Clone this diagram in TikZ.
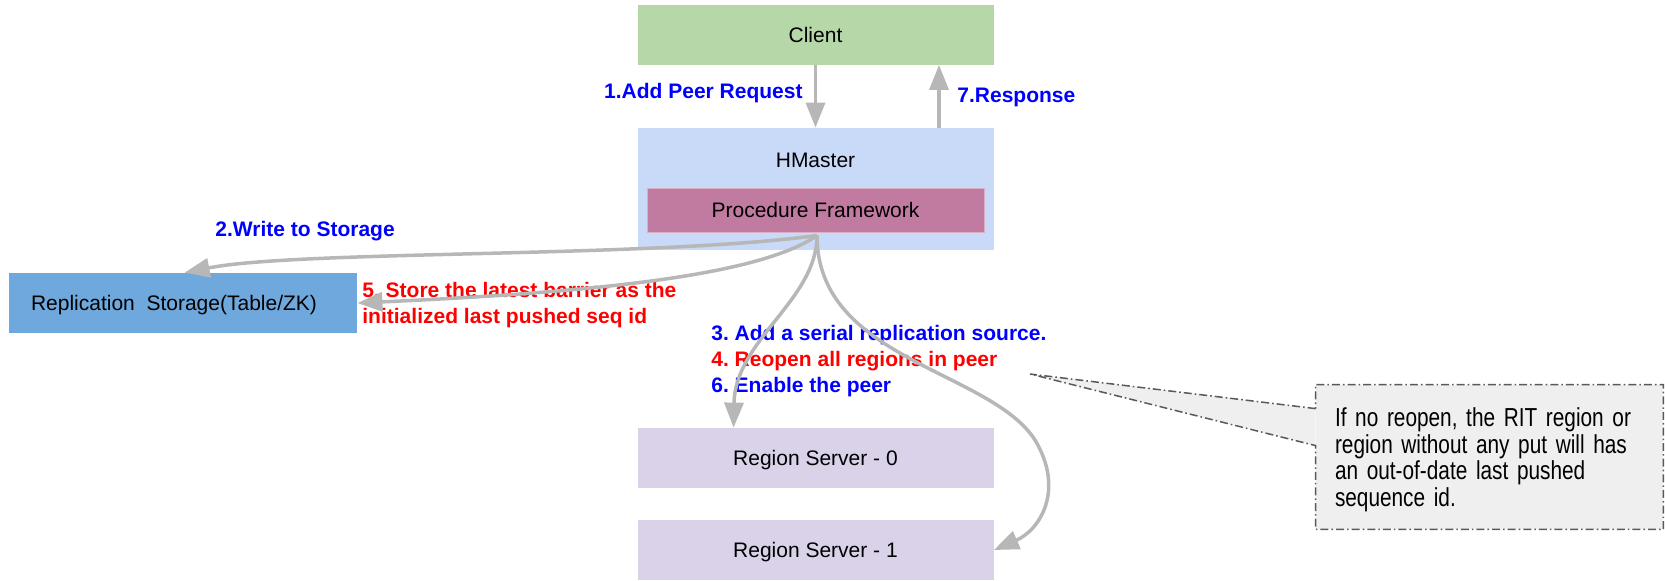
\documentclass[tikz,border=0pt]{standalone}
\usepackage{fontspec}
\setmainfont{Liberation Sans}
\newfontfamily\narrowfont[FakeStretch=0.8]{Liberation Sans}
\usetikzlibrary{arrows.meta,calc}
\definecolor{clientgreen}{HTML}{B6D7A8}
\definecolor{masterblue}{HTML}{C9DAF8}
\definecolor{procpink}{HTML}{C27BA0}
\definecolor{storeblue}{HTML}{6FA8DC}
\definecolor{rslilac}{HTML}{D9D2E9}
\definecolor{flowgray}{HTML}{B7B7B7}
\definecolor{notegray}{HTML}{EFEFEF}
\definecolor{noteedge}{HTML}{595959}
\definecolor{stepblue}{HTML}{0000FF}
\definecolor{stepred}{HTML}{FF0000}

\begin{document}
\frenchspacing
\begin{tikzpicture}[x=0.5pt,y=-0.5pt,
	box/.style={inner sep=0pt,minimum width=178pt,minimum height=30pt,
		text height=7.5pt,text depth=0pt,font=\fontsize{10.5}{13}\selectfont},
	steplabel/.style={anchor=base west,inner sep=0pt,font=\fontsize{10.5}{13}\selectfont\bfseries},
	flow/.style={draw=flowgray,line width=1.75pt,-{Triangle[length=12.5pt,width=9.5pt]}},
	notebox/.style={fill=notegray,inner xsep=9.5pt,inner ysep=0pt,text width=154.5pt,
		minimum width=173.5pt,minimum height=72pt,align=left,
		font=\narrowfont\fontsize{13}{13.3}\selectfont}]
	\useasboundingbox (0,0) rectangle (1665,580);

	\node[box,fill=clientgreen] (client) at (815.5,34.5) {Client};
	\node[box,fill=masterblue,minimum height=61pt] (hm) at (815.5,189) {};
	\node[box,minimum width=0pt,minimum height=0pt] (hmlabel) at (815.5,160) {HMaster};
	\node[box,fill=procpink,draw=procpink!60!white,line width=0.5pt,
		minimum width=168.5pt,minimum height=22pt] (pf) at (815.5,210) {Procedure Framework};
	\node[box,fill=storeblue,minimum width=174pt] (store) at (183,303)
		{Replication\ \ Storage(Table/ZK)\hspace*{9pt}};
	\node[box,fill=rslilac] (rs0) at (815.5,458) {Region Server - 0};
	\node[box,fill=rslilac] (rs1) at (815.5,550) {Region Server - 1};

	\node[steplabel,anchor=base east,text=stepblue] (req) at (803,98) {1.Add Peer Request};
	\node[steplabel,text=stepblue] (resp) at (957,102) {7.Response};
	\node[steplabel,text=stepblue] (write) at (215,236) {2.Write to Storage};
	\node[steplabel,text=stepred] (barrier) at (362,297) {5. Store the latest barrier as the};
	\node[steplabel,text=stepred] (barrierb) at (362,323) {initialized last pushed seq id};
	\node[steplabel,text=stepblue] (addsrc) at (711,340) {3. Add a serial replication source.};
	\node[steplabel,text=stepred] (reopen) at (711,366) {4. Reopen all regions in peer};
	\node[steplabel,text=stepblue] (enable) at (711,392) {6. Enable the peer};

	% note with its pointer
	\node[notebox] (note) at (1489.5,457) {\rule{0pt}{12pt}If no reopen, the RIT region or\\
		region without any put will has\\
		an out-of-date last pushed\\
		sequence id.};
	\coordinate (tip) at (1030,374);
	\coordinate (nup) at ($(note.north west)+(0,24)$);
	\coordinate (nlow) at ($(note.north west)+(0,61)$);
	\fill[notegray] (tip) -- (nup) -- (nlow) -- cycle;
	\draw[noteedge,line width=0.75pt,dash pattern=on 4pt off 1.5pt on 0.8pt off 1.5pt]
		(nup) -- (tip) -- (nlow) -- (note.south west) -- (note.south east)
		-- (note.north east) -- (note.north west) -- cycle;

	% arrows
	\coordinate (src) at ($(pf.south)+(1.5,3)$);
	\coordinate (back) at ($(hm.north)+(123.5,0)$);
	\draw[flow] (client.south) -- (hm.north);
	\draw[flow] (back) -- (back |- client.south);
	\draw[flow] (src) .. controls (650,258) and (300,250) .. ($(store.north west)+(176,0)$);
	\draw[flow] (src) .. controls (760,275) and (600,292) .. (store.east);
	\draw[flow] (src) .. controls (817,300) and (735,340) .. ($(rs0.north west)+(96.5,0)$);
	\draw[flow] (src) .. controls (817,360) and (990,370) .. (1035,440)
		.. controls (1065,490) and (1040,530) .. (rs1.east);
\end{tikzpicture}
\end{document}
